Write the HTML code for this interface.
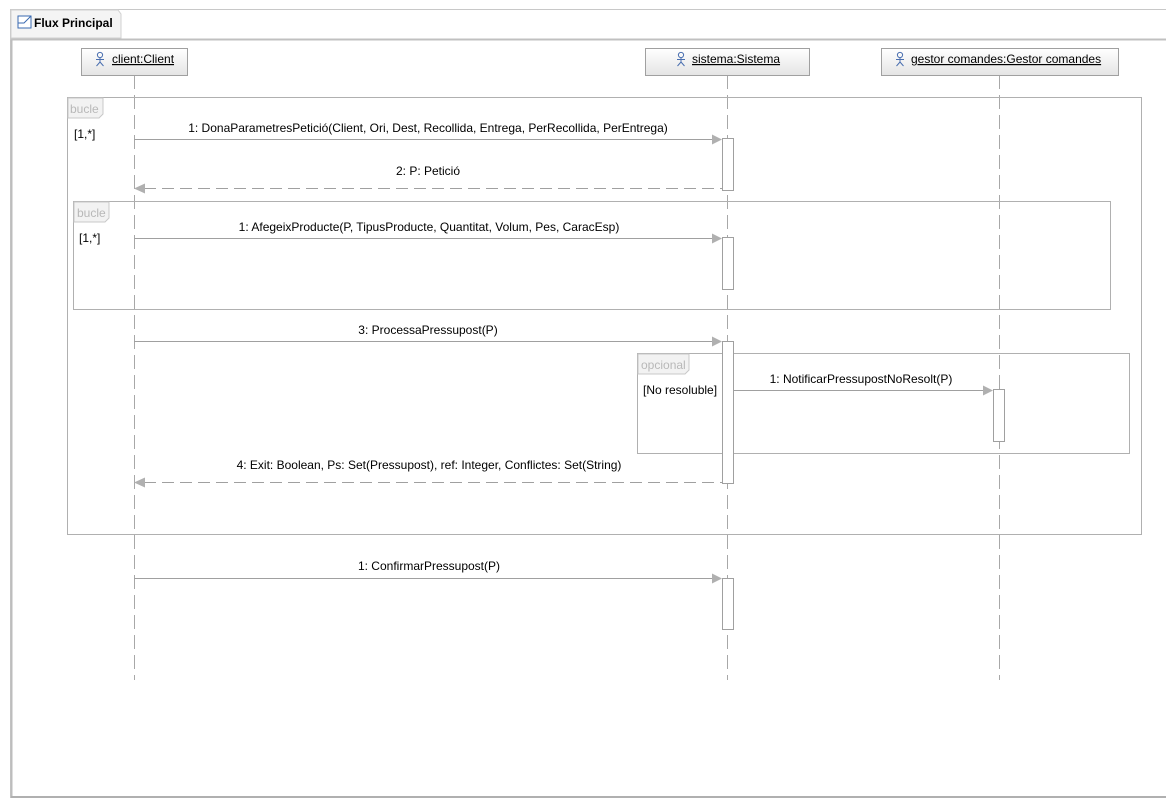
<!DOCTYPE html>
<html><head><meta charset="utf-8"><style>
html,body{margin:0;padding:0;background:#fff;}
svg{display:block;}
text{font-family:"Liberation Sans",sans-serif;font-size:12px;fill:#000;}
.g{fill:#b8b8b8;font-size:12px;}
</style></head><body>
<svg width="1166" height="808" viewBox="0 0 1166 808" xmlns="http://www.w3.org/2000/svg">
<defs>
<linearGradient id="hd" x1="0" y1="0" x2="0" y2="1"><stop offset="0" stop-color="#ffffff"/><stop offset="1" stop-color="#e4e4e4"/></linearGradient>
<g id="actor"><circle cx="0" cy="-4" r="2.6" fill="none" stroke="#4a6fb0" stroke-width="1"/><path d="M0 -1.4 V3 M-4 0.5 H4 M0 3 L-3.5 7 M0 3 L3.5 7" stroke="#4a6fb0" stroke-width="1" fill="none"/></g>
</defs>
<line x1="10" y1="9.5" x2="1166" y2="9.5" stroke="#c8c8c8"/>
<line x1="10.5" y1="9" x2="10.5" y2="798" stroke="#c8c8c8"/>
<path d="M11 10 H118 L121 14 V38 H11 Z" fill="#f4f4f4" stroke="#d0d0d0"/>
<rect x="18" y="16" width="13" height="12" fill="#fff" stroke="#3a6ab0"/>
<path d="M18 23 H24 L31 16" stroke="#3a6ab0" fill="none"/>
<text x="34" y="27" style="font-weight:bold">Flux Principal</text>
<line x1="11" y1="39.5" x2="1166" y2="39.5" stroke="#c0c0c0" stroke-width="2"/>
<line x1="11.5" y1="40" x2="11.5" y2="798" stroke="#bdbdbd" stroke-width="2"/>
<line x1="11" y1="797" x2="1166" y2="797" stroke="#b0b0b0" stroke-width="2"/>

<g stroke="#a8a8a8" stroke-dasharray="14,6">
<line x1="134.5" y1="75" x2="134.5" y2="680"/>
<line x1="727.5" y1="75" x2="727.5" y2="680"/>
<line x1="999.5" y1="75" x2="999.5" y2="680"/>
</g>
<rect x="81.5" y="48.5" width="106" height="27" fill="url(#hd)" stroke="#a0a0a0"/>
<use href="#actor" x="100" y="59"/>
<text x="112" y="63" text-decoration="underline">client:Client</text>
<rect x="645.5" y="48.5" width="164" height="27" fill="url(#hd)" stroke="#a0a0a0"/>
<use href="#actor" x="681" y="59"/>
<text x="692" y="63" text-decoration="underline">sistema:Sistema</text>
<rect x="881.5" y="48.5" width="237" height="27" fill="url(#hd)" stroke="#a0a0a0"/>
<use href="#actor" x="900" y="59"/>
<text x="911" y="63" text-decoration="underline">gestor comandes:Gestor comandes</text>

<rect x="67.5" y="97.5" width="1074" height="437" fill="none" stroke="#b0b0b0"/>
<path d="M68 98 H103 V114 L99 118 H68 Z" fill="#f2f2f2" stroke="#c8c8c8"/>
<text x="70" y="113" class="g">bucle</text>
<text x="74" y="138">[1,*]</text>

<rect x="73.5" y="201.5" width="1037" height="108" fill="none" stroke="#b0b0b0"/>
<path d="M74 202 H109 V218 L105 222 H74 Z" fill="#f2f2f2" stroke="#c8c8c8"/>
<text x="77" y="217" class="g">bucle</text>
<text x="79" y="242">[1,*]</text>

<rect x="637.5" y="353.5" width="492" height="100" fill="none" stroke="#b0b0b0"/>
<path d="M638 354 H689 V370 L685 374 H638 Z" fill="#f2f2f2" stroke="#c8c8c8"/>
<text x="641" y="369" class="g">opcional</text>
<text x="643" y="394">[No resoluble]</text>

<g fill="#fff" stroke="#a0a0a0">
<rect x="722.5" y="138.5" width="11" height="52"/>
<rect x="722.5" y="237.5" width="11" height="52"/>
<rect x="722.5" y="341.5" width="11" height="142"/>
<rect x="722.5" y="578.5" width="11" height="51"/>
<rect x="993.5" y="389.5" width="11" height="52"/>
</g>

<g stroke="#a0a0a0" fill="none">
<line x1="134" y1="139.5" x2="714" y2="139.5"/>
<line x1="144" y1="188.5" x2="722" y2="188.5" stroke-dasharray="12,6"/>
<line x1="134" y1="238.5" x2="714" y2="238.5"/>
<line x1="134" y1="341.5" x2="714" y2="341.5"/>
<line x1="733" y1="390.5" x2="985" y2="390.5"/>
<line x1="144" y1="482.5" x2="722" y2="482.5" stroke-dasharray="12,6"/>
<line x1="134" y1="578.5" x2="714" y2="578.5"/>
</g>
<g fill="#b0b0b0">
<path d="M712 134.5 L722 139.5 L712 144.5 Z"/>
<path d="M712 233.5 L722 238.5 L712 243.5 Z"/>
<path d="M712 336.5 L722 341.5 L712 346.5 Z"/>
<path d="M983 385.5 L993 390.5 L983 395.5 Z"/>
<path d="M712 573.5 L722 578.5 L712 583.5 Z"/>
<path d="M145 183.5 L134 188.5 L145 193.5 Z"/>
<path d="M145 477.5 L134 482.5 L145 487.5 Z"/>
</g>
<g text-anchor="middle">
<text x="428" y="132">1: DonaParametresPetició(Client, Ori, Dest, Recollida, Entrega, PerRecollida, PerEntrega)</text>
<text x="428" y="175">2: P: Petició</text>
<text x="429" y="231">1: AfegeixProducte(P, TipusProducte, Quantitat, Volum, Pes, CaracEsp)</text>
<text x="428" y="334">3: ProcessaPressupost(P)</text>
<text x="861" y="383">1: NotificarPressupostNoResolt(P)</text>
<text x="429" y="469">4: Exit: Boolean, Ps: Set(Pressupost), ref: Integer, Conflictes: Set(String)</text>
<text x="429" y="570">1: ConfirmarPressupost(P)</text>
</g>
</svg>
</body></html>
